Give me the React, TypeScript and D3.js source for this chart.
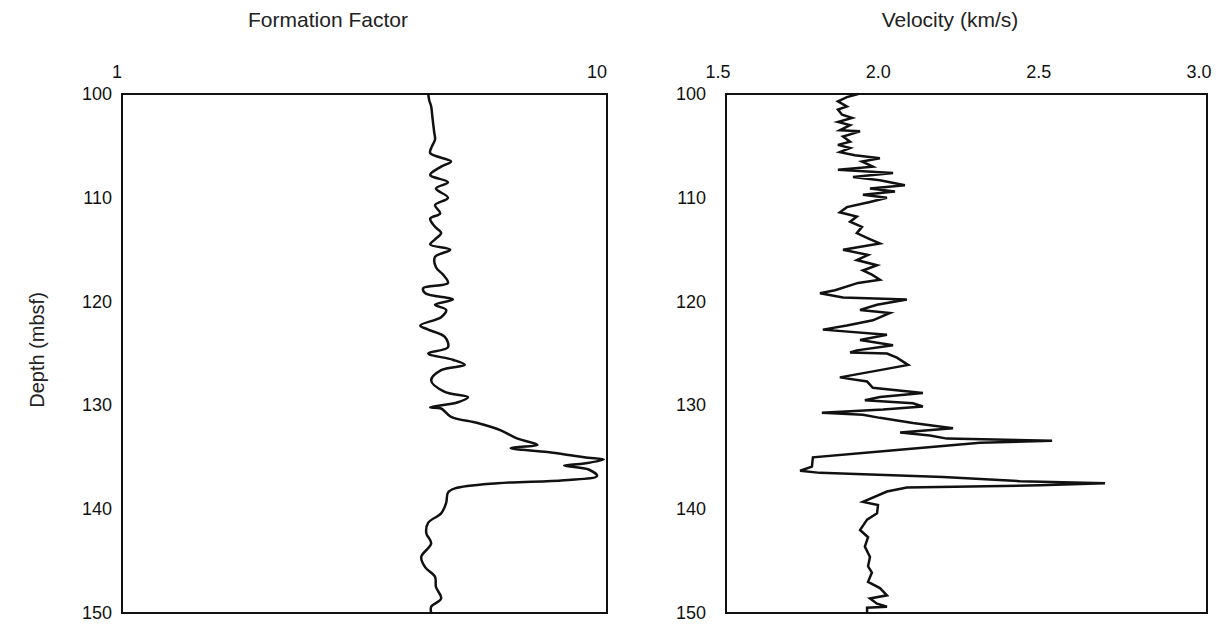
import React from "react";
import * as d3 from "d3";

// Formation factor log (depth in mbsf, formation factor)
const ffDepth = [100.0,100.6,101.2,102.0,102.8,103.6,104.4,105.0,105.7,106.5,107.0,107.8,108.5,109.1,110.0,110.7,111.5,112.0,112.8,113.4,114.0,114.5,115.0,115.7,116.7,117.4,118.2,118.7,119.2,119.8,120.3,120.8,121.5,122.3,122.7,123.4,124.4,125.0,125.6,126.1,126.6,127.6,128.7,129.2,129.7,130.2,130.3,131.1,131.7,132.4,133.2,133.8,134.1,134.5,135.0,135.2,135.6,135.8,136.2,136.8,137.2,137.5,138.0,138.4,139.4,140.4,141.3,142.3,143.3,144.6,145.6,146.5,147.5,148.6,149.4,150.0];
const ffValue = [4.28,4.30,4.34,4.36,4.38,4.40,4.42,4.36,4.32,4.77,4.55,4.32,4.70,4.44,4.70,4.42,4.53,4.32,4.42,4.55,4.42,4.32,4.75,4.42,4.44,4.59,4.70,4.18,4.22,4.81,4.42,4.66,4.55,4.12,4.28,4.63,4.70,4.28,4.81,5.09,4.55,4.34,4.63,5.17,4.93,4.32,4.55,4.77,5.41,6.04,6.54,7.19,6.33,7.54,8.97,9.85,8.97,8.16,9.19,9.54,8.16,5.95,4.86,4.70,4.66,4.55,4.28,4.24,4.34,4.14,4.22,4.42,4.44,4.55,4.34,4.34];

// Velocity log (depth in mbsf, km/s)
const vDepth = [100.0,100.3,100.7,101.2,101.5,102.0,102.3,102.7,103.0,103.5,103.6,104.1,104.6,104.9,105.2,105.6,105.9,106.2,106.5,107.0,107.3,107.6,108.0,108.3,108.8,109.1,109.4,109.7,110.0,110.4,110.9,111.4,111.8,112.3,112.8,113.4,113.9,114.4,115.0,115.5,116.0,116.5,117.0,117.4,117.9,118.2,118.9,119.2,119.6,119.8,120.3,120.8,121.1,121.8,122.3,122.7,123.2,123.7,124.2,124.7,124.9,125.0,125.4,126.1,126.6,127.3,127.7,128.3,128.8,129.2,129.5,129.8,130.1,130.4,130.7,130.9,131.2,131.7,132.2,132.6,132.9,133.2,133.4,133.6,134.3,135.0,135.9,136.3,136.5,136.9,137.3,137.5,137.7,137.9,138.3,139.3,139.6,140.4,141.0,142.0,142.7,143.6,144.6,145.5,146.1,147.0,147.6,148.3,148.6,149.1,149.4,149.5,150.0];
const vValue = [1.912,1.877,1.849,1.877,1.849,1.862,1.893,1.849,1.887,1.855,1.918,1.865,1.887,1.849,1.887,1.855,1.902,1.980,1.924,1.958,1.849,2.021,1.896,1.980,2.058,1.949,2.027,1.927,2.002,1.949,1.877,1.855,1.908,1.887,1.924,1.908,1.943,1.980,1.865,1.943,1.908,1.971,1.927,1.955,1.980,1.912,1.840,1.793,1.865,2.064,1.971,1.918,2.011,1.958,1.877,1.802,2.002,1.918,2.021,1.908,1.887,2.002,2.033,2.068,1.980,1.855,1.940,1.958,2.114,1.980,1.933,2.083,2.114,1.990,1.799,1.927,1.980,2.083,2.208,2.043,2.136,2.189,2.517,2.292,2.033,1.771,1.768,1.731,1.793,2.177,2.417,2.682,2.479,2.064,2.002,1.927,1.974,1.971,1.940,1.918,1.943,1.933,1.949,1.943,1.955,1.943,1.980,2.002,1.949,1.971,2.002,1.940,1.940];

const depthTicks = [100, 110, 120, 130, 140, 150];
const ffTicks = [1, 10];
const vTicks = [1.5, 2.0, 2.5, 3.0];

const FONT = "'Liberation Sans', Arial, sans-serif";

export default function App() {
  const y = d3.scaleLinear().domain([100, 150]).range([94, 613]);
  const xF = d3.scaleLog().domain([1, 10]).range([122, 607]);
  const xV = d3.scaleLinear().domain([1.5, 3.0]).range([726, 1207]);

  const ffLine = d3
    .line<number>()
    .x((_, i) => xF(ffValue[i]))
    .y((d) => y(d))
    .curve(d3.curveCatmullRom.alpha(0.5));
  const vLine = d3
    .line<number>()
    .x((_, i) => xV(vValue[i]))
    .y((d) => y(d));

  const panels = [
    { x0: 122, x1: 607 },
    { x0: 726, x1: 1207 },
  ];

  return (
    <svg
      width={1226}
      height={626}
      style={{ position: "absolute", left: 0, top: 0, background: "#fff" }}
      fontFamily={FONT}
    >
      <rect x={0} y={0} width={1226} height={626} fill="#fff" />
      {/* titles */}
      <text x={328} y={27} fontSize={21} textAnchor="middle" fill="#222">
        Formation Factor
      </text>
      <text x={950} y={27} fontSize={21} textAnchor="middle" fill="#222">
        Velocity (km/s)
      </text>
      <text
        transform={`translate(44,${350}) rotate(-90)`}
        fontSize={20}
        textAnchor="middle"
        fill="#222"
      >
        Depth (mbsf)
      </text>

      {/* top ticks */}
      {ffTicks.map((t) => (
        <text key={"f" + t} x={xF(t)} y={78} fontSize={18} textAnchor="end" fill="#111">
          {String(t)}
        </text>
      ))}
      {vTicks.map((t) => (
        <text key={"v" + t} x={xV(t) - 8} y={78} fontSize={18} textAnchor="middle" fill="#111">
          {t.toFixed(1)}
        </text>
      ))}

      {/* depth ticks */}
      {panels.map((p, pi) =>
        depthTicks.map((t) => (
          <text
            key={pi + "-" + t}
            x={p.x0 - (pi === 0 ? 10 : 20)}
            y={y(t) + 6}
            fontSize={18}
            textAnchor="end"
            fill="#111"
          >
            {t}
          </text>
        ))
      )}

      {/* frames */}
      {panels.map((p, i) => (
        <rect
          key={"fr" + i}
          x={p.x0}
          y={y(100)}
          width={p.x1 - p.x0}
          height={y(150) - y(100)}
          fill="none"
          stroke="#111"
          strokeWidth={2}
        />
      ))}

      <path d={ffLine(ffDepth) || ""} fill="none" stroke="#111" strokeWidth={2.5} strokeLinejoin="round" />
      <path d={vLine(vDepth) || ""} fill="none" stroke="#111" strokeWidth={2.5} strokeLinejoin="miter" />
    </svg>
  );
}
